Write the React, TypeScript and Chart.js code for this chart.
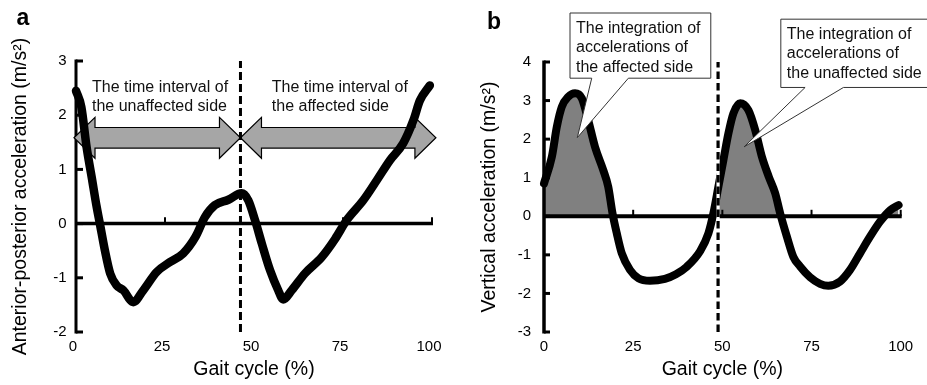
import React, { useEffect, useRef } from 'react';
import { Chart, registerables } from 'chart.js';

Chart.register(...registerables);

const FONT = '"Liberation Sans", Arial, Helvetica, sans-serif';

// ---------- Panel a : anterior-posterior acceleration ----------
const apGaitCycle = [0, 1.5, 3, 4.4, 5.8, 6.7, 8.1, 9.6, 11.4, 13.3, 16.1, 18.9, 22.7, 26.4, 30.1, 33.6, 36.2, 39, 42.8, 46.5, 48.4, 50.3, 52.2, 54.5, 56.8, 58.2, 60.6, 64.3, 69, 72.8, 76, 80.7, 84.5, 88.2, 91.9, 94.8, 96.6, 99.4];
const apAcceleration = [2.45, 2.15, 1.4, 0.86, 0.31, 0, -0.49, -0.92, -1.14, -1.23, -1.45, -1.23, -0.89, -0.71, -0.55, -0.24, 0.12, 0.34, 0.44, 0.56, 0.43, 0.06, -0.37, -0.86, -1.23, -1.4, -1.23, -0.92, -0.62, -0.28, 0.06, 0.43, 0.8, 1.17, 1.48, 1.91, 2.27, 2.55];
const apYTicks = [-2, -1, 0, 1, 2, 3];
const apDivider = 46.2;
const apTitleY = 'Anterior-posterior acceleration (m/s\u00B2)';
const apNotes = [
  { x: 4.5, y: 2.43, lines: ['The time interval of', 'the unaffected side'] },
  { x: 55, y: 2.43, lines: ['The time interval of', 'the affected side'] },
];
const apArrows = [
  { from: -0.56, to: 46.2, y: 1.583 },
  { from: 46.2, to: 101.1, y: 1.583 },
];

// ---------- Panel b : vertical acceleration ----------
const vGaitCycle = [0, 2.2, 3.6, 5, 6.8, 8.7, 10.6, 12.4, 14.3, 16.6, 18, 19.2, 20.4, 21.8, 24.1, 26.5, 29.7, 33.9, 37, 40, 43.8, 46.1, 47.5, 48.9, 50.3, 51.7, 53.1, 55, 57.3, 59.2, 61.1, 63, 64.8, 66.2, 68.1, 69.9, 71.8, 74.6, 77.4, 79.7, 83, 85.8, 88.6, 91.4, 94.2, 97.1, 99.4];
const vAcceleration = [0.85, 1.54, 2.32, 2.84, 3.1, 3.19, 3.06, 2.49, 1.8, 1.2, 0.77, 0.08, -0.44, -0.96, -1.39, -1.61, -1.67, -1.62, -1.5, -1.31, -0.9, -0.44, 0.08, 0.77, 1.46, 2.15, 2.67, 2.93, 2.75, 2.24, 1.54, 1.03, 0.6, 0.08, -0.53, -1.05, -1.3, -1.58, -1.75, -1.8, -1.69, -1.39, -0.96, -0.53, -0.14, 0.16, 0.29];
const vYTicks = [-3, -2, -1, 0, 1, 2, 3, 4];
const vDivider = 48.8;
const vTitleY = 'Vertical acceleration (m/s\u00B2)';
const vCallouts = [
  { lines: ['The integration of', 'accelerations of', 'the affected side'], box: [7.29, 5.27, 46.76, 3.58], base: [13.38, 23.65], tip: [9.34, 2.04] },
  { lines: ['The integration of', 'accelerations of', 'the unaffected side'], box: [66.39, 5.11, 108.3, 3.34], base: [73.2, 83.95], tip: [56.1, 1.8] },
];

const gaitTicks = [0, 25, 50, 75, 100];
const xTitle = 'Gait cycle (%)';

function drawArrow(ctx: CanvasRenderingContext2D, xl: number, xr: number, yc: number) {
  const hl = 21, hh = 20.5, sh = 10.3;
  ctx.beginPath();
  ctx.moveTo(xl, yc);
  ctx.lineTo(xl + hl, yc - hh);
  ctx.lineTo(xl + hl, yc - sh);
  ctx.lineTo(xr - hl, yc - sh);
  ctx.lineTo(xr - hl, yc - hh);
  ctx.lineTo(xr, yc);
  ctx.lineTo(xr - hl, yc + hh);
  ctx.lineTo(xr - hl, yc + sh);
  ctx.lineTo(xl + hl, yc + sh);
  ctx.lineTo(xl + hl, yc + hh);
  ctx.closePath();
  ctx.fill();
  ctx.stroke();
}

function makePlugin(spec: any) {
  return {
    id: 'decor',
    beforeDatasetsDraw(chart: any) {
      const ctx = chart.ctx as CanvasRenderingContext2D;
      const xs = chart.scales.x, ys = chart.scales.y;
      const x0 = xs.getPixelForValue(0), x100 = xs.getPixelForValue(100);
      const yTop = ys.getPixelForValue(ys.max), yBot = ys.getPixelForValue(ys.min);
      const y0 = ys.getPixelForValue(0);
      ctx.save();
      ctx.strokeStyle = '#000';
      ctx.lineCap = 'butt';
      // zero line
      ctx.lineWidth = spec.zeroWidth;
      ctx.beginPath(); ctx.moveTo(x0, y0); ctx.lineTo(x100 + 1, y0); ctx.stroke();
      // small ticks on the zero line
      ctx.lineWidth = 2;
      for (const v of gaitTicks.slice(1)) {
        const px = xs.getPixelForValue(v);
        ctx.beginPath(); ctx.moveTo(px, y0); ctx.lineTo(px, y0 - spec.zeroWidth / 2 - 4.5); ctx.stroke();
      }
      // y axis line
      ctx.lineWidth = spec.axisWidth;
      ctx.beginPath(); ctx.moveTo(x0, yTop - 1.5); ctx.lineTo(x0, yBot + 1.5); ctx.stroke();
      // inward ticks
      ctx.lineWidth = 3;
      for (const v of spec.yTicks) {
        const py = ys.getPixelForValue(v);
        ctx.beginPath(); ctx.moveTo(x0, py); ctx.lineTo(x0 + spec.tickLen, py); ctx.stroke();
      }
      // arrows
      if (spec.arrows) {
        ctx.fillStyle = '#a6a6a6';
        ctx.strokeStyle = '#000';
        ctx.lineWidth = 1.2;
        ctx.lineJoin = 'miter';
        for (const a of spec.arrows) {
          drawArrow(ctx, xs.getPixelForValue(a.from), xs.getPixelForValue(a.to), ys.getPixelForValue(a.y));
        }
      }
      ctx.restore();
    },
    afterDatasetsDraw(chart: any) {
      const ctx = chart.ctx as CanvasRenderingContext2D;
      const xs = chart.scales.x, ys = chart.scales.y;
      ctx.save();
      ctx.textAlign = 'left';
      ctx.textBaseline = 'alphabetic';
      if (spec.notes) {
        ctx.font = '16px ' + FONT;
        ctx.fillStyle = '#111';
        for (const n of spec.notes) {
          const px = xs.getPixelForValue(n.x), py = ys.getPixelForValue(n.y);
          n.lines.forEach((l: string, i: number) => ctx.fillText(l, px, py + i * 19.4));
        }
      }
      if (spec.callouts) {
        for (const c of spec.callouts) {
          const bl = xs.getPixelForValue(c.box[0]), bt = ys.getPixelForValue(c.box[1]);
          const br = xs.getPixelForValue(c.box[2]), bb = ys.getPixelForValue(c.box[3]);
          const b1 = xs.getPixelForValue(c.base[0]), b2 = xs.getPixelForValue(c.base[1]);
          const tx = xs.getPixelForValue(c.tip[0]), ty = ys.getPixelForValue(c.tip[1]);
          ctx.beginPath();
          ctx.moveTo(bl, bt); ctx.lineTo(br, bt); ctx.lineTo(br, bb); ctx.lineTo(b2, bb);
          ctx.lineTo(tx, ty); ctx.lineTo(b1, bb); ctx.lineTo(bl, bb); ctx.closePath();
          ctx.fillStyle = '#fff'; ctx.fill();
          ctx.strokeStyle = '#333'; ctx.lineWidth = 1; ctx.lineJoin = 'miter'; ctx.stroke();
          ctx.font = '16px ' + FONT;
          ctx.fillStyle = '#111';
          c.lines.forEach((l: string, i: number) => ctx.fillText(l, bl + 6, bt + 19.8 + i * 19.4));
        }
      }
      ctx.font = 'bold 23px ' + FONT;
      ctx.fillStyle = '#000';
      ctx.fillText(spec.letter, spec.letterX, spec.letterY);
      ctx.restore();
    },
  };
}

function buildConfig(s: any) {
  const datasets: any[] = [
    {
      label: 'divider',
      data: [{ x: s.divider, y: s.yMin }, { x: s.divider, y: s.yMax }],
      borderColor: '#000', borderWidth: s.dashWidth, borderDash: s.dash,
      pointRadius: 0, fill: false, clip: false, order: 0,
    },
  ];
  if (s.whiteUnder) {
    datasets.push({
      label: 'divider-bg',
      data: [{ x: s.divider, y: s.yMin }, { x: s.divider, y: s.yMax }],
      borderColor: '#fff', borderWidth: s.dashWidth, pointRadius: 0, fill: false, clip: false, order: 1,
    });
  }
  datasets.push({
    label: 'acceleration',
    data: s.gait.map((g: number, i: number) => ({ x: g, y: s.accel[i] })),
    borderColor: '#000', borderWidth: s.lineWidth, pointRadius: 0,
    cubicInterpolationMode: 'monotone', borderCapStyle: 'round', borderJoinStyle: 'round',
    fill: s.fillColor ? { target: 'origin', above: s.fillColor, below: 'rgba(0,0,0,0)' } : false,
    clip: false, order: 2,
  });
  return {
    type: 'line',
    data: { datasets },
    options: {
      responsive: false,
      animation: false,
      devicePixelRatio: 1,
      layout: { padding: { left: 0, top: s.padTop, right: s.padRight, bottom: 0 } },
      plugins: { legend: { display: false }, tooltip: { enabled: false }, filler: { drawTime: 'beforeDatasetsDraw' } },
      scales: {
        x: {
          type: 'linear', min: 0, max: 100,
          afterBuildTicks: (sc: any) => { sc.ticks = gaitTicks.map((v) => ({ value: v })); },
          grid: { display: false, drawTicks: false },
          border: { display: false },
          ticks: { font: { size: 15, family: FONT }, color: '#000', padding: 6, labelOffset: s.labelOffset, maxRotation: 0, autoSkip: false },
          title: { display: true, text: xTitle, color: '#000', font: { size: 19.5, family: FONT }, padding: { top: 0, bottom: 3.3 } },
          afterFit: (sc: any) => { sc.height = 53; },
        },
        y: {
          type: 'linear', min: s.yMin, max: s.yMax,
          afterBuildTicks: (sc: any) => { sc.ticks = s.yTicks.map((v: number) => ({ value: v })); },
          grid: { display: false, drawTicks: false },
          border: { display: false },
          ticks: { font: { size: 15, family: FONT }, color: '#000', padding: s.yLabelPad, autoSkip: false },
          title: { display: true, text: s.yTitle, color: '#000', font: { size: 19.5, family: FONT }, padding: { top: s.yTitlePad, bottom: 0 } },
          afterFit: (sc: any) => { sc.width = s.yWidth; },
        },
      },
    },
    plugins: [makePlugin(s)],
  };
}

const panelA = {
  gait: apGaitCycle, accel: apAcceleration, yTicks: apYTicks, yMin: -2, yMax: 3,
  divider: apDivider, dash: [8, 4], dashWidth: 3, lineWidth: 8.5, fillColor: null, whiteUnder: false,
  yTitle: apTitleY, yTitlePad: 9.4, yLabelPad: 9.3, yWidth: 76, padTop: 61, padRight: 31,
  labelOffset: -3, zeroWidth: 3.5, axisWidth: 3, tickLen: 7,
  arrows: apArrows, notes: apNotes, callouts: null,
  letter: 'a', letterX: 16.5, letterY: 25,
};

const panelB = {
  gait: vGaitCycle, accel: vAcceleration, yTicks: vYTicks, yMin: -3, yMax: 4,
  divider: vDivider, dash: [7.5, 4], dashWidth: 3.2, lineWidth: 8, fillColor: '#808080', whiteUnder: true,
  yTitle: vTitleY, yTitlePad: 15.4, yLabelPad: 13, yWidth: 81, padTop: 62, padRight: 26.3,
  labelOffset: 0, zeroWidth: 4, axisWidth: 3.5, tickLen: 6,
  arrows: null, notes: null, callouts: vCallouts,
  letter: 'b', letterX: 24, letterY: 29.3,
};

function Panel({ spec, left, width }: { spec: any; left: number; width: number }) {
  const ref = useRef<HTMLCanvasElement>(null);
  useEffect(() => {
    const chart = new Chart(ref.current as HTMLCanvasElement, buildConfig(spec) as any);
    return () => chart.destroy();
  }, [spec]);
  return (
    <canvas
      ref={ref}
      width={width}
      height={385}
      style={{ position: 'absolute', left, top: 0, width, height: 385, display: 'block' }}
    />
  );
}

export default function App() {
  return (
    <div style={{ position: 'absolute', left: 0, top: 0, width: 927, height: 385, background: '#fff', overflow: 'hidden' }}>
      <Panel spec={panelA} left={0} width={463} />
      <Panel spec={panelB} left={463} width={464} />
    </div>
  );
}
